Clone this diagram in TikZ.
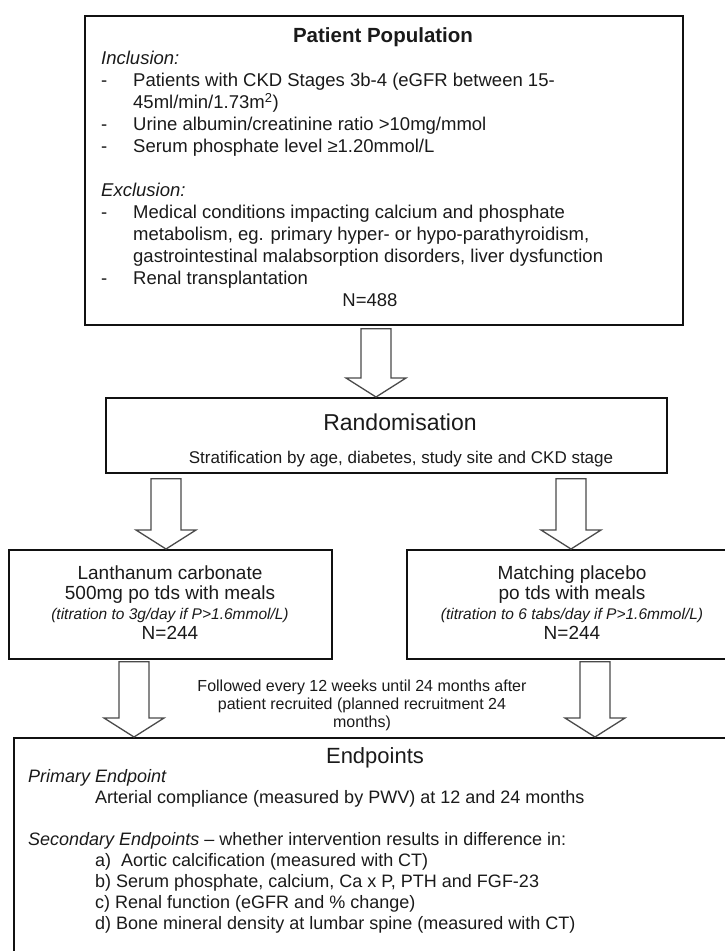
\documentclass[tikz,border=0pt]{standalone}
\usepackage{fontspec}
\setmainfont{Liberation Sans}
\usetikzlibrary{calc,positioning}
\definecolor{boxline}{HTML}{111111}
\definecolor{arrline}{HTML}{4A4A4A}
\definecolor{ink}{HTML}{1A1A1A}
\newcommand{\fs}[2]{\fontsize{#1}{#2}\selectfont}

\begin{document}
\begin{tikzpicture}[
  x=1pt, y=-1pt,
  box/.style={draw=boxline, line width=1.8pt, anchor=north west, inner sep=0pt},
  txt/.style={inner sep=0pt, anchor=base, text=ink},
  fatarrow/.style={draw=arrline, line width=1.3pt, fill=white, line join=miter,
    to path={let \p1=(\tikztostart), \p2=(\tikztotarget) in
      (\x1-15pt,\y1) -- (\x1-15pt,\y2+19pt) -- (\x1-30pt,\y2+19pt) -- (\x1,\y2)
      -- (\x1+30pt,\y2+19pt) -- (\x1+15pt,\y2+19pt) -- (\x1+15pt,\y1) -- cycle}},
]
\useasboundingbox (0,0) rectangle (724,951);

% ---- boxes ----
\node[box, minimum width=598pt, minimum height=309pt] (pop) at (84,15) {};
\node[box, minimum width=561pt, minimum height=75pt] (rand) at (105,397) {};
\node[box, minimum width=323pt, minimum height=109pt] (lanth) at (8,549) {};
\node[box, minimum width=332pt, minimum height=109pt] (plac) at (406,549) {};
\node[box, minimum width=724pt, minimum height=260pt] (endp) at (13,737) {};

% ---- arrow columns ----
\coordinate (c1) at (376,0);
\coordinate (c2) at (166,0);
\coordinate (c3) at (571,0);
\coordinate (c4) at (134,0);
\coordinate (c5) at (595,0);

\draw[fatarrow] ($(pop.south -| c1)+(0,3)$) to (rand.north -| c1);
\draw[fatarrow] ($(rand.south -| c2)+(0,5)$) to (lanth.north -| c2);
\draw[fatarrow] ($(rand.south -| c3)+(0,5)$) to (plac.north -| c3);
\draw[fatarrow] ($(lanth.south -| c4)+(0,2)$) to (endp.north -| c4);
\draw[fatarrow] ($(plac.south -| c5)+(0,2)$) to (endp.north -| c5);

% ---- patient population ----
\node[txt, font=\fs{20.5}{24}\bfseries] (popt) at (383,42) {Patient Population};
\node[txt, anchor=base west, font=\fs{18.5}{22}] (popl) at (101,64.5) {%
  \begin{tabular}[t]{@{}p{32pt}@{}l@{}}
  \multicolumn{2}{@{}l@{}}{\textit{Inclusion:}}\\
  - & Patients with CKD Stages 3b-4 (eGFR between 15-\\
    & 45ml/min/1.73m\textsuperscript{2})\\
  - & Urine albumin/creatinine ratio >10mg/mmol\\
  - & Serum phosphate level ≥1.20mmol/L\\
    & \\
  \multicolumn{2}{@{}l@{}}{\textit{Exclusion:}}\\
  - & Medical conditions impacting calcium and phosphate\\
    & metabolism, eg. primary hyper- or hypo-parathyroidism,\\
    & gastrointestinal malabsorption disorders, liver dysfunction\\
  - & Renal transplantation
  \end{tabular}};
\node[txt, font=\fs{18.5}{22}] (popn) at (370,306.5) {N=488};

% ---- randomisation ----
\node[txt, font=\fs{23}{27}] (randt) at (400,430) {Randomisation};
\node[txt, font=\fs{17}{20}] (rands) at (401,463)
  {Stratification by age, diabetes, study site and CKD stage};

% ---- arms ----
\node[txt, font=\fs{19}{20}] (lantht) at (170,579.5) {%
  \begin{tabular}[t]{@{}c@{}}
  Lanthanum carbonate\\
  500mg po tds with meals\\
  {\fs{15.5}{20}\itshape (titration to 3g/day if P>1.6mmol/L)}\\
  N=244
  \end{tabular}};
\node[txt, font=\fs{19}{20}] (plact) at (572,579.5) {%
  \begin{tabular}[t]{@{}c@{}}
  Matching placebo\\
  po tds with meals\\
  {\fs{15.5}{20}\itshape (titration to 6 tabs/day if P>1.6mmol/L)}\\
  N=244
  \end{tabular}};

% ---- follow-up note ----
\node[txt, font=\fs{16}{18}] (follow) at (362,691.5) {%
  \begin{tabular}[t]{@{}c@{}}
  Followed every 12 weeks until 24 months after\\
  patient recruited (planned recruitment 24\\
  months)
  \end{tabular}};

% ---- endpoints ----
\node[txt, font=\fs{22}{26}] (endt) at (375,763) {Endpoints};
\node[txt, anchor=base west, font=\fs{18}{21}] (endl) at (28,782) {%
  \begin{tabular}[t]{@{}p{67pt}@{}l@{}}
  \multicolumn{2}{@{}l@{}}{\textit{Primary Endpoint}}\\
    & Arterial compliance (measured by PWV) at 12 and 24 months\\
    & \\
  \multicolumn{2}{@{}l@{}}{\textit{Secondary Endpoints} – whether intervention results in difference in:}\\
    & a)\ \ Aortic calcification (measured with CT)\\
    & b) Serum phosphate, calcium, Ca x P, PTH and FGF-23\\
    & c) Renal function (eGFR and \% change)\\
    & d) Bone mineral density at lumbar spine (measured with CT)
  \end{tabular}};
\end{tikzpicture}
\end{document}
